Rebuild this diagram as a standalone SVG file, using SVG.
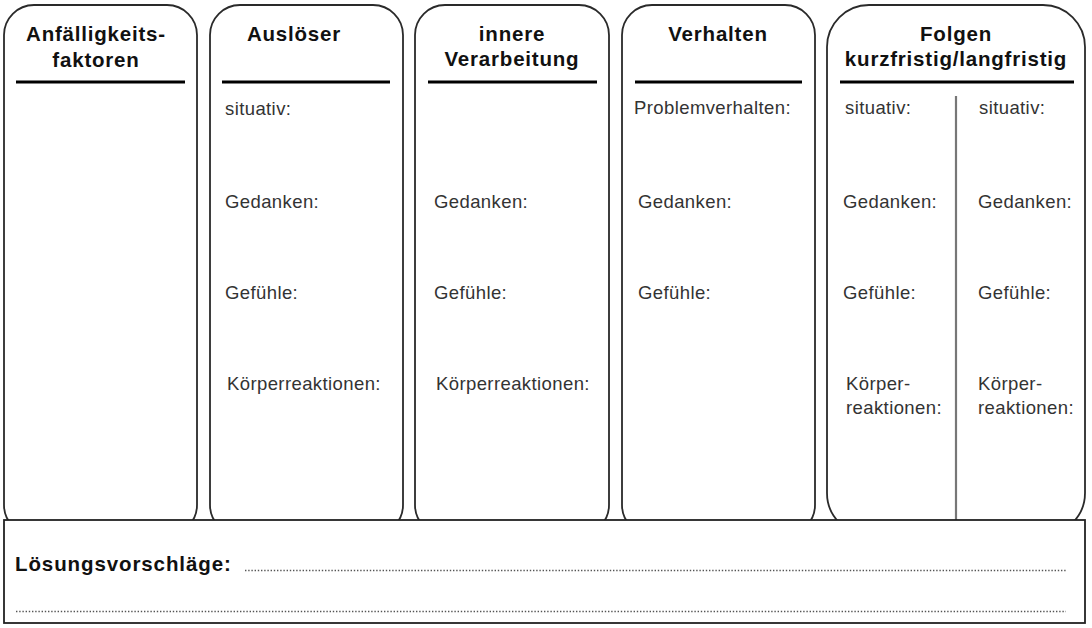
<svg xmlns="http://www.w3.org/2000/svg" width="1092" height="628" viewBox="0 0 1092 628">
<style>
.col{fill:#fff;stroke:#2a2a2a;stroke-width:1.8}
.sep{stroke:#000;stroke-width:3}
.hd{font-family:"Liberation Sans",Arial,sans-serif;font-weight:bold;font-size:20.5px;letter-spacing:0.8px;fill:#111;text-anchor:middle}
.tx{font-family:"Liberation Sans",Arial,sans-serif;font-size:18.5px;letter-spacing:0.4px;fill:#333}
.dot{stroke:#555;stroke-width:1.5;stroke-dasharray:1.4 1.8}
</style>
<rect width="1092" height="628" fill="#fff"/>
<g id="col-anfaelligkeit">
<rect class="col" x="4" y="5" width="193" height="530" rx="30"/>
<text class="hd" x="96" y="41">Anfälligkeits-</text>
<text class="hd" x="96" y="67">faktoren</text>
<line class="sep" x1="16" y1="82" x2="185" y2="82"/>
</g>
<g id="col-ausloeser">
<rect class="col" x="210" y="5" width="193" height="530" rx="30"/>
<text class="hd" x="294" y="41">Auslöser</text>
<line class="sep" x1="222" y1="82" x2="390" y2="82"/>
<text class="tx" x="225" y="115">situativ:</text>
<text class="tx" x="225" y="208">Gedanken:</text>
<text class="tx" x="225" y="299">Gefühle:</text>
<text class="tx" x="227" y="390">Körperreaktionen:</text>
</g>
<g id="col-verarbeitung">
<rect class="col" x="415" y="5" width="194" height="530" rx="30"/>
<text class="hd" x="512" y="41">innere</text>
<text class="hd" x="512" y="66">Verarbeitung</text>
<line class="sep" x1="428" y1="82" x2="597" y2="82"/>
<text class="tx" x="434" y="208">Gedanken:</text>
<text class="tx" x="434" y="299">Gefühle:</text>
<text class="tx" x="436" y="390">Körperreaktionen:</text>
</g>
<g id="col-verhalten">
<rect class="col" x="622" y="5" width="193" height="530" rx="30"/>
<text class="hd" x="718" y="41">Verhalten</text>
<line class="sep" x1="635" y1="82" x2="802" y2="82"/>
<text class="tx" x="634" y="114">Problemverhalten:</text>
<text class="tx" x="638" y="208">Gedanken:</text>
<text class="tx" x="638" y="299">Gefühle:</text>
</g>
<g id="col-folgen">
<rect class="col" x="827" y="5" width="258" height="530" rx="42"/>
<text class="hd" x="956" y="41">Folgen</text>
<text class="hd" x="956" y="66">kurzfristig/langfristig</text>
<line class="sep" x1="840" y1="82" x2="1074" y2="82"/>
<line x1="956" y1="96" x2="956" y2="520" stroke="#777" stroke-width="2.2"/>
<text class="tx" x="845" y="114">situativ:</text>
<text class="tx" x="843" y="208">Gedanken:</text>
<text class="tx" x="843" y="299">Gefühle:</text>
<text class="tx" x="846" y="390">Körper-</text>
<text class="tx" x="846" y="414">reaktionen:</text>
<text class="tx" x="979" y="114">situativ:</text>
<text class="tx" x="978" y="208">Gedanken:</text>
<text class="tx" x="978" y="299">Gefühle:</text>
<text class="tx" x="978" y="390">Körper-</text>
<text class="tx" x="978" y="414">reaktionen:</text>
</g>
<g id="loesungsvorschlaege">
<rect x="4" y="520" width="1081" height="103" fill="#fff" stroke="#222" stroke-width="1.8"/>
<text x="15" y="571" font-family="'Liberation Sans',Arial,sans-serif" font-weight="bold" font-size="20.5" letter-spacing="0.9" fill="#111">Lösungsvorschläge:</text>
<line class="dot" x1="245" y1="570.5" x2="1066" y2="570.5"/>
<line class="dot" x1="16" y1="611.5" x2="1066" y2="611.5"/>
</g>
</svg>
